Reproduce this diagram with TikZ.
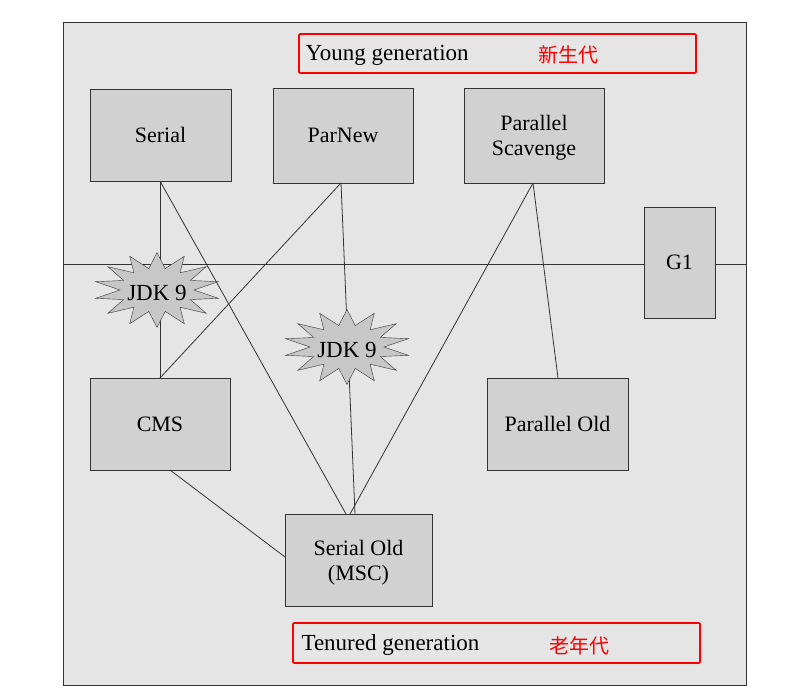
\documentclass[tikz,border=0pt]{standalone}
\usepackage{fontspec}
\setmainfont{Liberation Serif}
\newfontfamily\cjk{Noto Sans CJK SC}
\usetikzlibrary{shapes.geometric}
\begin{document}
\begin{tikzpicture}[x=1pt,y=-1pt,
 box/.style={draw=black!80,fill=black!18,line width=0.8pt,font=\fontsize{22}{25}\selectfont,align=center,inner sep=0pt,text depth=0pt},
 lbl/.style={draw=red,line width=1.6pt,rounded corners=1pt},
 burst/.style={star,star points=14,star point ratio=1.7,draw=black!80,fill=black!22,minimum width=68pt,inner sep=0pt,xscale=1.85,yscale=1.1},
 jdk/.style={font=\fontsize{23}{26}\selectfont},
 ln/.style={draw=black!80,line width=0.8pt}]
\useasboundingbox (0,0) rectangle (805,700);
\fill[white] (0,0) rectangle (805,700);
\draw[fill=black!10,draw=black!80,line width=0.8pt] (63,22) rectangle (746,685);
\coordinate (hl) at (63,264); \coordinate (hr) at (746,264);
\draw[ln] (hl) -- (hr);
\node[box,minimum width=141pt,minimum height=92pt] (serial) at (160.5,135) {Serial};
\node[box,minimum width=140pt,minimum height=95pt] (parnew) at (343,135.5) {ParNew};
\node[box,minimum width=140pt,minimum height=95pt] (ps) at (534,135.5) {Parallel\\Scavenge};
\node[box,minimum width=71pt,minimum height=111pt] (g1) at (679.5,262.5) {G1};
\node[box,minimum width=140pt,minimum height=92pt] (cms) at (160,424) {CMS};
\node[box,minimum width=141pt,minimum height=92pt] (po) at (557.5,424) {Parallel Old};
\node[box,minimum width=147pt,minimum height=92pt] (so) at (358.5,560) {Serial Old\\(MSC)};
\coordinate (s1) at (160,181); \coordinate (c1) at (160,378);
\coordinate (so1) at (346,514); \coordinate (so2) at (355,514); \coordinate (so3) at (350,514);
\coordinate (p1) at (341,183); \coordinate (ps1) at (533,183); \coordinate (po1) at (558,378);
\coordinate (c2) at (170,470); \coordinate (so4) at (285,557);
\draw[ln] (s1)--(c1); \draw[ln] (s1)--(so1);
\draw[ln] (p1)--(c1); \draw[ln] (p1)--(so2);
\draw[ln] (ps1)--(so3); \draw[ln] (ps1)--(po1);
\draw[ln] (c2)--(so4);
\node[burst] (j1) at (157,290) {}; \node[jdk] (t1) at (157,293) {JDK 9};
\node[burst] (j2) at (347,347) {}; \node[jdk] (t2) at (347,350) {JDK 9};
\draw[lbl] (299,34) rectangle (696,73);
\node[anchor=west,font=\fontsize{23}{26}\selectfont] (yg) at (302,55) {Young generation};
\node[text=red,font=\cjk\fontsize{20}{22}\selectfont] (xs) at (568,55) {新生代};
\draw[lbl] (293,623) rectangle (700,663);
\node[anchor=west,font=\fontsize{23}{26}\selectfont] (tg) at (298,645) {Tenured generation};
\node[text=red,font=\cjk\fontsize{20}{22}\selectfont] (ln2) at (579,646) {老年代};
\end{tikzpicture}
\end{document}
